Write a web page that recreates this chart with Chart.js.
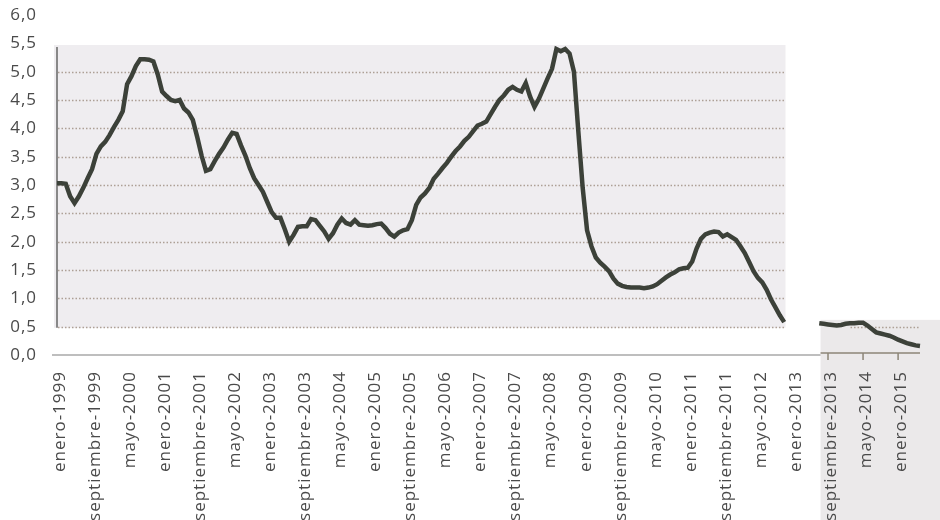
<!DOCTYPE html>
<html lang="es">
<head>
<meta charset="UTF-8" />
<title>Serie mensual 1999-2015</title>
<script src="https://cdn.jsdelivr.net/npm/chart.js"></script>
<style>
  html, body { margin: 0; padding: 0; background: #fff; overflow: hidden; }
  canvas { display: block; }
</style>
</head>
<body>
<canvas id="chart" width="940" height="520"></canvas>
<script>
// months, Spanish, used for the category labels "enero-1999" ...
const monthNames = ["enero", "febrero", "marzo", "abril", "mayo", "junio",
  "julio", "agosto", "septiembre", "octubre", "noviembre", "diciembre"];
const firstYear = 1999;
const labelEvery = 8;

// monthly values, enero-1999 .. junio-2015 (null = part missing in the scan)
const values = [
  3.03, 3.03, 3.02, 2.80, 2.68, 2.80, 2.95, 3.12, 3.28, 3.55, 3.68, 3.76, // 1999
  3.88, 4.02, 4.15, 4.30, 4.78, 4.92, 5.10, 5.22, 5.22, 5.21, 5.18, 4.95, // 2000
  4.65, 4.57, 4.50, 4.48, 4.50, 4.35, 4.28, 4.15, 3.85, 3.52, 3.25, 3.28, // 2001
  3.42, 3.55, 3.66, 3.80, 3.92, 3.90, 3.70, 3.52, 3.30, 3.12, 3.00, 2.88, // 2002
  2.70, 2.52, 2.42, 2.42, 2.22, 2.00, 2.12, 2.26, 2.27, 2.27, 2.40, 2.38, // 2003
  2.28, 2.18, 2.05, 2.15, 2.30, 2.41, 2.33, 2.30, 2.38, 2.30, 2.29, 2.28, // 2004
  2.29, 2.31, 2.32, 2.24, 2.14, 2.09, 2.16, 2.20, 2.22, 2.38, 2.65, 2.78, // 2005
  2.85, 2.95, 3.11, 3.20, 3.30, 3.39, 3.50, 3.60, 3.68, 3.78, 3.85, 3.95, // 2006
  4.05, 4.08, 4.12, 4.25, 4.38, 4.50, 4.58, 4.68, 4.73, 4.68, 4.65, 4.80, // 2007
  4.56, 4.38, 4.52, 4.70, 4.88, 5.05, 5.40, 5.36, 5.40, 5.32, 5.00, 3.95, // 2008
  2.95, 2.20, 1.92, 1.72, 1.63, 1.56, 1.48, 1.35, 1.26, 1.22, 1.20, 1.19, // 2009
  1.19, 1.19, 1.18, 1.19, 1.21, 1.25, 1.31, 1.37, 1.42, 1.46, 1.51, 1.53, // 2010
  1.54, 1.65, 1.88, 2.05, 2.13, 2.16, 2.18, 2.17, 2.09, 2.13, 2.08, 2.03, // 2011
  1.92, 1.80, 1.64, 1.48, 1.36, 1.28, 1.15, 0.98, 0.84, 0.70, 0.58, null, // 2012
  null, null, null, null, null, null, 0.56, 0.55, 0.54, 0.53, 0.52, 0.53, // 2013
  0.55, 0.56, 0.56, 0.57, 0.57, 0.52, 0.46, 0.40, 0.38, 0.36, 0.34, 0.31, // 2014
  0.27, 0.24, 0.21, 0.19, 0.17, 0.16                                      // 2015
];

const yMin = 0, yMax = 6, yStep = 0.5;

const labels = values.map((v, i) =>
  monthNames[i % 12] + "-" + (firstYear + Math.floor(i / 12)));

const textColor = "#4a4a4a";
const fontFamily = "'Open Sans', sans-serif";

// the scan: a shaded main block and a small shifted piece bottom-right
const mainBlock = { from: 0, to: 166.3, top: 5.47, bottom: 0.48 };
const pieceBlock = { from: 174.3, top: 0.62 };

const scanPlugin = {
  id: "scan",
  beforeUpdate(chart) {
    chart.ctx.letterSpacing = "1px";
  },
  beforeDraw(chart) {
    const ctx = chart.ctx;
    ctx.letterSpacing = "1px";
    const x = chart.scales.x, y = chart.scales.y;
    const mx0 = x.getPixelForValue(mainBlock.from) - 3;
    const mx1 = x.getPixelForValue(mainBlock.to);
    const my0 = y.getPixelForValue(mainBlock.top);
    const my1 = y.getPixelForValue(mainBlock.bottom);
    const px0 = x.getPixelForValue(pieceBlock.from);
    const py0 = y.getPixelForValue(pieceBlock.top);
    const y0 = y.getPixelForValue(0);

    ctx.save();
    ctx.fillStyle = "#efedf0";
    ctx.fillRect(mx0, my0, mx1 - mx0, my1 - my0);
    ctx.fillStyle = "#ebe9ea";
    ctx.fillRect(px0, py0, chart.width - px0, chart.height - py0);

    // dotted gridlines
    ctx.strokeStyle = "#ada095";
    ctx.lineWidth = 1.5;
    ctx.setLineDash([1.5, 2]);
    for (let v = yStep; v <= 5; v += yStep) {
      const py = Math.round(y.getPixelForValue(v)) + 0.5;
      if (py >= my0 && py <= my1 + 1) {
        ctx.beginPath();
        ctx.moveTo(mx0 + 4, py);
        ctx.lineTo(mx1, py);
        ctx.stroke();
      }
      if (py >= py0 && py < y0 - 2) {
        ctx.beginPath();
        ctx.moveTo(px0 + 30, py);
        ctx.lineTo(x.right, py);
        ctx.stroke();
      }
    }
    ctx.setLineDash([]);

    // vertical axis, only where the scan shows it
    ctx.strokeStyle = "#666666";
    ctx.lineWidth = 1.5;
    ctx.beginPath();
    ctx.moveTo(x.left, my0 + 2);
    ctx.lineTo(x.left, my1);
    ctx.stroke();

    // horizontal axis
    ctx.strokeStyle = "#a9a9a9";
    ctx.beginPath();
    ctx.moveTo(x.left - 5, y0);
    ctx.lineTo(px0, y0);
    ctx.stroke();
    ctx.strokeStyle = "#8c8577";
    ctx.beginPath();
    ctx.moveTo(px0, y0 - 2);
    ctx.lineTo(x.right, y0 - 2);
    ctx.stroke();
    for (let i = 0; i < labels.length; i += labelEvery) {
      const tx = x.getPixelForValue(i);
      if (tx < px0) continue;
      ctx.beginPath();
      ctx.moveTo(tx, y0 - 2);
      ctx.lineTo(tx, y0 + 5);
      ctx.stroke();
    }
    ctx.restore();
  }
};

new Chart(document.getElementById("chart"), {
  type: "line",
  data: {
    labels: labels,
    datasets: [
      {
        data: values,
        borderColor: "#3c4139",
        borderWidth: 4.5,
        pointRadius: 0,
        tension: 0,
        spanGaps: false,
        fill: false,
      },
    ],
  },
  options: {
    responsive: false,
    animation: false,
    layout: { padding: { top: 15, right: 20, left: 0, bottom: 0 } },
    plugins: {
      legend: { display: false },
      tooltip: { enabled: false },
    },
    scales: {
      x: {
        grid: { display: false, drawTicks: false },
        border: { display: false },
        ticks: {
          autoSkip: false,
          minRotation: 90,
          maxRotation: 90,
          padding: 16,
          labelOffset: 3,
          color: textColor,
          font: { family: fontFamily, size: 17 },
          callback: (v, i) => (i % labelEvery === 0 ? labels[i] : ""),
        },
        afterFit: (s) => {
          s.height = 165;
          s.paddingLeft = 0;
          s.paddingRight = 0;
        },
      },
      y: {
        min: yMin,
        max: yMax,
        grid: { display: false, drawTicks: false },
        border: { display: false },
        ticks: {
          stepSize: yStep,
          padding: 20,
          color: textColor,
          font: { family: fontFamily, size: 17 },
          callback: (v) => v.toFixed(1).replace(".", ","),
        },
        afterFit: (s) => {
          s.width = 57;
          s.paddingTop = 0;
          s.paddingBottom = 0;
        },
      },
    },
  },
  plugins: [scanPlugin],
});
</script>
</body>
</html>
